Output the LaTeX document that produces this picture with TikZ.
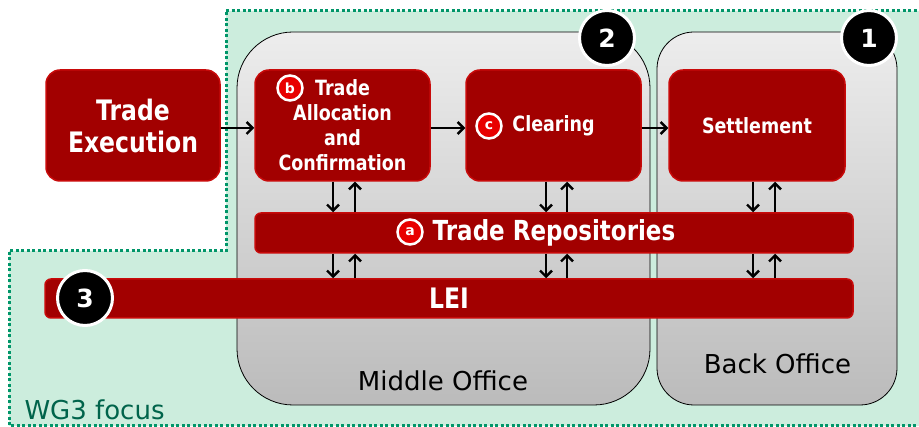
\documentclass[tikz,border=0pt]{standalone}
\usepackage{fontspec}
\usepackage{graphicx}
\setmainfont{DejaVu Sans}
\usetikzlibrary{arrows.meta,calc}
\definecolor{focusfill}{RGB}{204,237,221}
\definecolor{focusline}{RGB}{0,150,105}
\definecolor{focustext}{RGB}{0,100,75}
\definecolor{boxred}{RGB}{162,0,0}
\definecolor{boxedge}{RGB}{200,10,10}
\definecolor{dotred}{RGB}{232,0,0}
\definecolor{grayhi}{RGB}{237,237,237}
\definecolor{graylo}{RGB}{187,187,187}
% taller bold lettering for the red boxes
\newcommand{\tallbf}[1]{\scalebox{1}[1.2]{#1}}
\tikzset{
  redbox/.style={fill=boxred, draw=boxedge, line width=1.5pt, rounded corners=14pt,
    text=white, align=center, inner sep=0pt},
  redbar/.style={fill=boxred, draw=boxedge, line width=1.5pt, rounded corners=6pt,
    text=white, inner sep=0pt},
  officebox/.style={draw=black, line width=0.8pt, top color=grayhi, bottom color=graylo},
  numdot/.style={circle, fill=black, draw=white, line width=3pt, minimum size=55pt,
    inner sep=0pt, text=white, font=\fontsize{25}{25}\selectfont\bfseries},
  letdot/.style={circle, fill=dotred, draw=white, line width=2.5pt, minimum size=25pt,
    inner sep=0pt, text=white, font=\fontsize{14}{14}\selectfont\bfseries},
  flow/.style={-{Straight Barb[length=6pt,width=12pt]}, line width=2.4pt, black},
  officelabel/.style={anchor=base, font=\fontsize{26}{26}\selectfont, text=black},
  boxfont/.style={font=\fontsize{17.5}{25}\selectfont\bfseries}
}
\begin{document}
\begin{tikzpicture}[x=1pt,y=-1pt]
  \fill[white] (0,0) rectangle (919,427);
  \useasboundingbox (0,0) rectangle (919,427);

  % working group focus area
  \begin{scope}
    \clip (0,0) rectangle (919,427);
    \fill[focusfill] (226,11) -- (930,11) -- (930,426) -- (9,426) -- (9,251) -- (226,251) -- cycle;
    \draw[focusline, line width=3pt, dash pattern=on 3pt off 2.5pt]
      (226,11) -- (930,11) -- (930,426) -- (9,426) -- (9,251) -- (226,251) -- cycle;
  \end{scope}
  \node[anchor=base west, font=\fontsize{26}{26}\selectfont, text=focustext] (wg) at (21,420) {WG3 focus};

  % offices
  \draw[officebox, rounded corners=56pt] (237,32) rectangle (650,405);
  \draw[officebox, rounded corners=37pt] (657,32) rectangle (897,405);
  \node[officelabel] (mid) at (443,391) {Middle Office};
  \node[officelabel] (back) at (777.5,374) {Back Office};

  % process boxes
  \node[redbox, minimum width=174pt, minimum height=111pt,
        font=\fontsize{23.5}{32}\selectfont\bfseries] (exec) at (133,125.5)
        {\tallbf{Trade}\\\tallbf{Execution}};
  \node[redbox, minimum width=175pt, minimum height=111pt, boxfont] (alloc) at (342.5,125.5)
        {\tallbf{Trade}\\\tallbf{Allocation}\\\tallbf{and}\\\tallbf{Confirmation}};
  \node[redbox, minimum width=175pt, minimum height=111pt, boxfont] (clear) at (553.5,125.5) {\tallbf{Clearing}};
  \node[redbox, minimum width=176pt, minimum height=111pt, boxfont] (settle) at (757,125.5) {\tallbf{Settlement}};

  % shared infrastructure bars
  \node[redbar, minimum width=598pt, minimum height=40pt,
        font=\fontsize{23}{23}\selectfont\bfseries] (repo) at (554,233) {\tallbf{Trade Repositories}};
  \node[redbar, minimum width=808pt, minimum height=39pt,
        font=\fontsize{23.5}{23.5}\selectfont\bfseries] (lei) at (449,298.5) {\tallbf{LEI}};

  % flow between stages
  \draw[flow] ([yshift=-2.5pt]exec.east) -- ([yshift=-2.5pt]alloc.west);
  \draw[flow] ([yshift=-2.5pt]alloc.east) -- ([yshift=-2.5pt]clear.west);
  \draw[flow] ([yshift=-2.5pt]clear.east) -- ([yshift=-2.5pt]settle.west);

  % reporting links
  \foreach \dn/\up/\src in {333/355/alloc, 546/567/clear, 753/775/settle}{
    \coordinate (d) at (\dn,0);
    \coordinate (u) at (\up,0);
    \draw[flow] (\src.south -| d) -- (repo.north -| d);
    \draw[flow] (repo.north -| u) -- (\src.south -| u);
    \draw[flow] (repo.south -| d) -- (lei.north -| d);
    \draw[flow] (lei.north -| u) -- (repo.south -| u);
  }

  % markers
  \node[letdot] (ma) at (410,232) {a};
  \node[letdot] (mb) at (290,88) {b};
  \node[letdot] (mc) at (489,126) {c};
  \node[numdot] (n2) at (607,38) {2};
  \node[numdot] (n1) at (869,38) {1};
  \node[numdot] (n3) at (85,298) {3};
\end{tikzpicture}
\end{document}
